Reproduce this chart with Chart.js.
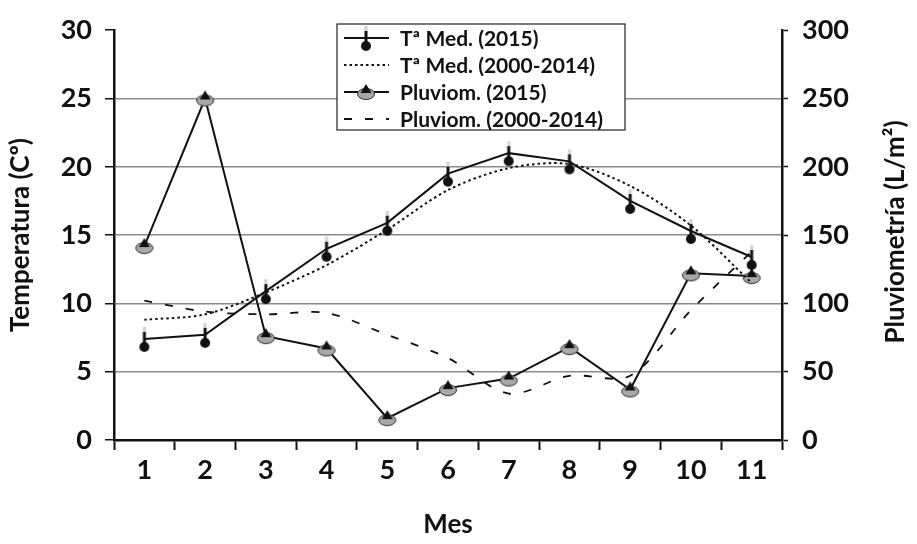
<!DOCTYPE html>
<html>
<head>
<meta charset="utf-8">
<script src="https://cdn.jsdelivr.net/npm/chart.js@4.4.1/dist/chart.umd.min.js"></script>
<style>
  html, body { margin: 0; padding: 0; background: #fff; }
  #wrap { width: 917px; height: 544px; }
</style>
</head>
<body>
<div id="wrap"><canvas id="chart" width="917" height="544"></canvas></div>
<script>
const months = ['1', '2', '3', '4', '5', '6', '7', '8', '9', '10', '11'];
const tempMed2015 = [7.4, 7.7, 10.9, 14.0, 15.9, 19.5, 21.0, 20.4, 17.5, 15.3, 13.4];
const tempMedHist = [8.8, 9.2, 10.8, 12.8, 15.4, 18.3, 19.9, 20.2, 18.6, 15.7, 11.5];
const pluvio2015 = [142, 250, 76, 67, 16, 38, 45, 68, 37, 122, 120];
const pluvioHist = [102, 94, 92, 93, 77, 60, 34, 47, 47, 95, 138];
const tempTicks = [0, 5, 10, 15, 20, 25, 30];
const pluvioTicks = [0, 50, 100, 150, 200, 250, 300];

const FONT = 'Lato';
const W = 'bold';

// marcador termometro: palito arriba, bola abajo
function thermoMarker() {
    const c = document.createElement('canvas');
    c.width = 12; c.height = 30;
    const g = c.getContext('2d');
    g.fillStyle = '#d0d0d0';
    g.fillRect(4.5, 3, 3, 5);
    g.fillStyle = '#111';
    g.fillRect(4.5, 8, 3, 13);
    g.beginPath();
    g.arc(6, 23, 5, 0, Math.PI * 2);
    g.fill();
    return c;
}

// marcador pluviometro: base gris con triangulo negro
function coneMarker() {
    const c = document.createElement('canvas');
    c.width = 22; c.height = 22;
    const g = c.getContext('2d');
    g.fillStyle = '#a8a8a8';
    g.strokeStyle = '#333';
    g.lineWidth = 1;
    g.beginPath();
    g.ellipse(11, 13, 8.5, 5.5, 0, 0, Math.PI * 2);
    g.fill();
    g.stroke();
    g.fillStyle = '#111';
    g.beginPath();
    g.moveTo(11, 3);
    g.lineTo(16.5, 12);
    g.lineTo(5.5, 12);
    g.closePath();
    g.fill();
    return c;
}

const thermo = thermoMarker();
const cone = coneMarker();

const legendItems = [
    { text: 'Tª Med. (2015)', dash: [], marker: thermo },
    { text: 'Tª Med. (2000-2014)', dash: [2.5, 3], marker: null },
    { text: 'Pluviom. (2015)', dash: [], marker: cone },
    { text: 'Pluviom. (2000-2014)', dash: [8, 13], marker: null }
];

const boxLegend = {
    id: 'boxLegend',
    afterDraw(chart) {
        const ctx = chart.ctx;
        const x0 = 337, y0 = 24, w = 288, h = 106;
        ctx.save();
        ctx.fillStyle = '#fff';
        ctx.fillRect(x0, y0, w, h);
        ctx.strokeStyle = '#222';
        ctx.lineWidth = 1.2;
        ctx.strokeRect(x0, y0, w, h);
        ctx.font = `${W} 21px ${FONT}`;
        ctx.textBaseline = 'middle';
        legendItems.forEach((it, i) => {
            const y = y0 + 14 + i * 27;
            ctx.strokeStyle = '#111';
            ctx.lineWidth = 1.8;
            ctx.setLineDash(it.dash);
            ctx.beginPath();
            ctx.moveTo(x0 + 7, y);
            ctx.lineTo(x0 + 52, y);
            ctx.stroke();
            ctx.setLineDash([]);
            if (it.marker) {
                ctx.drawImage(it.marker, x0 + 29 - it.marker.width / 2, y - it.marker.height / 2);
            }
            ctx.fillStyle = '#111';
            ctx.fillText(it.text, x0 + 63, y + 1);
        });
        ctx.restore();
    }
};

const rightTitle = {
    id: 'rightTitle',
    afterDraw(chart) {
        const ctx = chart.ctx;
        ctx.save();
        ctx.translate(896, 232);
        ctx.rotate(-Math.PI / 2);
        ctx.font = `${W} 26px ${FONT}`;
        ctx.fillStyle = '#111';
        ctx.textAlign = 'center';
        ctx.textBaseline = 'middle';
        ctx.fillText('Pluviometría (L/m²)', 0, 0);
        ctx.restore();
    }
};

new Chart(document.getElementById('chart'), {
    type: 'line',
    data: {
        labels: months,
        datasets: [
            {
                label: 'Tª Med. (2015)',
                data: tempMed2015,
                yAxisID: 'y',
                borderColor: '#111',
                borderWidth: 2,
                pointStyle: thermo,
                tension: 0
            },
            {
                label: 'Tª Med. (2000-2014)',
                data: tempMedHist,
                yAxisID: 'y',
                borderColor: '#111',
                borderWidth: 2,
                borderDash: [2.5, 3],
                pointRadius: 0,
                tension: 0.3
            },
            {
                label: 'Pluviom. (2015)',
                data: pluvio2015,
                yAxisID: 'y2',
                borderColor: '#111',
                borderWidth: 2,
                pointStyle: cone,
                tension: 0
            },
            {
                label: 'Pluviom. (2000-2014)',
                data: pluvioHist,
                yAxisID: 'y2',
                borderColor: '#111',
                borderWidth: 1.8,
                borderDash: [8, 13],
                pointRadius: 0,
                tension: 0.3
            }
        ]
    },
    options: {
        responsive: false,
        animation: false,
        devicePixelRatio: 1,
        layout: { padding: { top: 21, left: 0, right: 0, bottom: 0 } },
        plugins: {
            legend: { display: false },
            tooltip: { enabled: false }
        },
        scales: {
            x: {
                offset: true,
                afterFit: s => { s.height = 104; },
                grid: {
                    offset: true,
                    drawOnChartArea: false,
                    tickLength: 10,
                    tickColor: '#111',
                    tickWidth: 2
                },
                border: { color: '#111', width: 2.5 },
                ticks: {
                    color: '#111',
                    padding: 4,
                    font: { family: FONT, size: 27, weight: W }
                },
                title: {
                    display: true,
                    text: 'Mes',
                    color: '#111',
                    padding: { bottom: 4 },
                    font: { family: FONT, size: 26, weight: W }
                }
            },
            y: {
                position: 'left',
                min: 0,
                max: 30,
                afterFit: s => { s.width = 114; },
                afterBuildTicks: s => { s.ticks = tempTicks.map(v => ({ value: v })); },
                grid: {
                    color: c => (c.tick && (c.tick.value === 30 || c.tick.value === 0)) ? 'rgba(0,0,0,0)' : '#8a8a8a',
                    lineWidth: 1.5,
                    tickLength: 9,
                    tickColor: '#111',
                    tickWidth: 1.5
                },
                border: { color: '#111', width: 2.5 },
                ticks: {
                    color: '#111',
                    padding: 13,
                    font: { family: FONT, size: 27, weight: W }
                },
                title: {
                    display: true,
                    text: 'Temperatura (Cº)',
                    color: '#111',
                    padding: { top: 5 },
                    font: { family: FONT, size: 26, weight: W }
                }
            },
            y2: {
                position: 'right',
                min: 0,
                max: 300,
                afterFit: s => { s.width = 135; },
                afterBuildTicks: s => { s.ticks = pluvioTicks.map(v => ({ value: v })); },
                grid: {
                    drawOnChartArea: false,
                    tickLength: 6,
                    tickColor: '#111',
                    tickWidth: 1.5
                },
                border: { color: '#111', width: 2.5 },
                ticks: {
                    color: '#111',
                    padding: 14,
                    font: { family: FONT, size: 27, weight: W }
                }
            }
        }
    },
    plugins: [boxLegend, rightTitle]
});
</script>
</body>
</html>
